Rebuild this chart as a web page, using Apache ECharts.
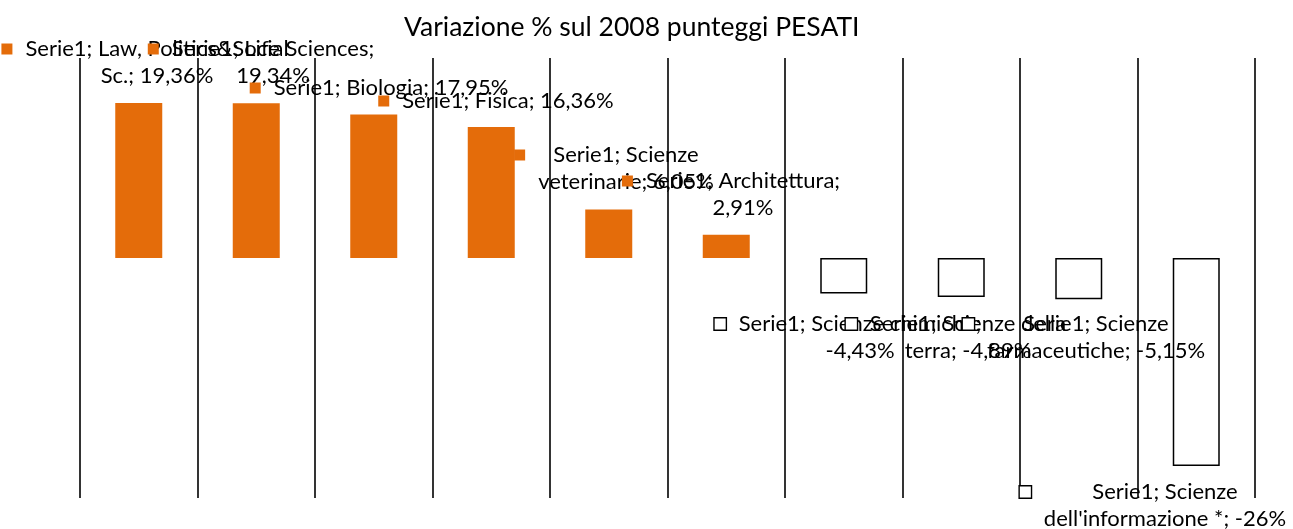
<!DOCTYPE html>
<html><head><meta charset="utf-8">
<script src="https://cdn.jsdelivr.net/npm/echarts@6/dist/echarts.min.js"></script>
<style>html,body{margin:0;padding:0;background:#fff}#c{width:1293px;height:529px}</style>
</head><body><div id="c"></div>
<script>
// ---- data ----
const titleText = "Variazione % sul 2008 punteggi PESATI";
const seriesName = "Serie1";
const categories = ["Law, Politics&Social Sc.", "Life Sciences", "Biologia", "Fisica", "Scienze veterinarie", "Architettura", "Scienze chimiche", "Scienze della terra", "Scienze farmaceutiche", "Scienze dell'informazione *"];
const values = [19.36, 19.34, 17.95, 16.36, 6.05, 2.91, -4.43, -4.89, -5.15, -26];
// words on the first line of each wrapped data label
const firstLineWords = [3, 3, 99, 99, 2, 2, 3, 3, 2, 2];
// label text anchor: [text centre x, first line centre y] (styling)
const labelAnchors = [[157, 49], [273, 49], [391, 88], [508, 101], [626, 155], [743, 181], [860, 324], [968, 324], [1096, 324], [1165, 492]];

// ---- style ----
const ORANGE = '#E46C0A';
const FONT = 'Lato';
const FS = 22, LH = 27, TFS = 26.5;
const KEY = 11, GAP = 13, KW = KEY + GAP;

function fmt(v) {
  const s = Number.isInteger(v) ? String(v) : v.toFixed(2);
  return s.replace('.', ',') + '%';
}
function lines(i) {
  const words = (seriesName + '; ' + categories[i] + '; ' + fmt(values[i])).split(' ');
  const n = firstLineWords[i];
  const l1 = words.slice(0, n).join(' ');
  const l2 = words.slice(n).join(' ');
  return l2 ? [l1, l2] : [l1];
}
const txt = {fontFamily: FONT, fontSize: FS, color: '#000', lineHeight: LH};
const rich = {
  k: {width: KEY, height: KEY, backgroundColor: ORANGE, align: 'left', lineHeight: LH},
  h: {width: KEY, height: KEY, backgroundColor: '#fff', borderColor: '#000', borderWidth: 1.4, align: 'left', lineHeight: LH},
  g: {width: GAP, align: 'left', lineHeight: LH},
  s: {width: KW, align: 'left', lineHeight: LH},
  t: txt
};

const chart = echarts.init(document.getElementById('c'), null, {renderer: 'canvas'});

function itemFor(v, i, offset) {
  const ls = lines(i);
  const key = v < 0 ? '{h|}' : '{k|}';
  let str = key + '{g|}{t|' + ls[0] + '}';
  if (ls[1]) str += '\n{s|}{t|' + ls[1] + '}';
  return {
    value: v,
    itemStyle: v < 0 ? {color: '#fff', borderColor: '#000', borderWidth: 1.5} : {color: ORANGE},
    label: {show: true, position: 'inside', formatter: str, rich: rich, offset: offset || [0, 0],
            color: '#000', textBorderWidth: 0, fontFamily: FONT, fontSize: FS, lineHeight: LH}
  };
}

const ctx = document.createElement('canvas').getContext('2d');
ctx.font = TFS + 'px ' + FONT;
const titleW = ctx.measureText(titleText).width;

const option = {
  animation: false,
  backgroundColor: '#fff',
  title: {text: titleText, left: Math.round(632 - titleW / 2), top: 14, padding: 0,
          textStyle: {fontFamily: FONT, fontSize: TFS, fontWeight: 'normal', color: '#000'}},
  grid: {left: 80, right: 38, top: 58, bottom: 31, containLabel: false},
  xAxis: {type: 'category', data: categories, axisLine: {show: false}, axisTick: {show: false},
          axisLabel: {show: false}, splitLine: {show: true, interval: 0, lineStyle: {color: '#000', width: 1.6}}},
  yAxis: {type: 'value', min: -30, max: 25, axisLine: {show: false}, axisTick: {show: false},
          axisLabel: {show: false}, splitLine: {show: false}},
  series: [{name: seriesName, type: 'bar', barWidth: '40%', data: values.map((v, i) => itemFor(v, i))}]
};
chart.setOption(option);

const data = values.map((v, i) => {
  const c = chart.convertToPixel({seriesIndex: 0}, [i, v / 2]);
  const n = lines(i).length;
  const bx = labelAnchors[i][0] - KW / 2;
  const by = labelAnchors[i][1] + (n - 1) * LH / 2;
  return itemFor(v, i, [bx - c[0], by - c[1]]);
});
chart.setOption({series: [{data: data}]});
</script>
</body></html>
